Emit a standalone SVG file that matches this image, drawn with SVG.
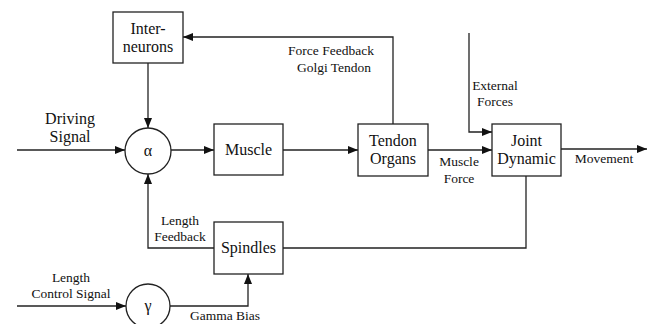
<svg xmlns="http://www.w3.org/2000/svg" width="649" height="324" viewBox="0 0 649 324">
<style>
.box{fill:#fff;stroke:#222;stroke-width:1.3}
.ln{fill:none;stroke:#222;stroke-width:1.3}
.big{font-family:'Liberation Serif','Times New Roman','DejaVu Serif',serif;font-size:16px;fill:#111;text-anchor:middle}
.sm{font-family:'Liberation Serif','Times New Roman','DejaVu Serif',serif;font-size:13.5px;fill:#111;text-anchor:middle}
</style>
<defs>
<marker id="ah" markerUnits="userSpaceOnUse" markerWidth="10" markerHeight="8" refX="10" refY="4" orient="auto">
<path d="M0,0 L10,4 L0,8 Z" fill="#111"/>
</marker>
</defs>
<rect width="649" height="324" fill="#fff"/>
<g id="connectors">
<path class="ln" d="M17,150 L125,150" marker-end="url(#ah)"/>
<path class="ln" d="M148,63 L148,128" marker-end="url(#ah)"/>
<path class="ln" d="M171,150 L214,150" marker-end="url(#ah)"/>
<path class="ln" d="M283,150 L358,150" marker-end="url(#ah)"/>
<path class="ln" d="M428,150 L492,150" marker-end="url(#ah)"/>
<path class="ln" d="M561,149 L647,149" marker-end="url(#ah)"/>
<path class="ln" d="M393,124 L393,37 L183,37" marker-end="url(#ah)"/>
<path class="ln" d="M469,33 L469,132 L492,132" marker-end="url(#ah)"/>
<path class="ln" d="M526,176 L526,248 L283,248"/>
<path class="ln" d="M214,248 L148,248 L148,174" marker-end="url(#ah)"/>
<path class="ln" d="M17,306 L126,306" marker-end="url(#ah)"/>
<path class="ln" d="M170,306 L248,306 L248,274" marker-end="url(#ah)"/>
<text class="sm" x="331" y="55">Force Feedback</text>
<text class="sm" x="334" y="72">Golgi Tendon</text>
<text class="sm" x="495" y="90">External</text>
<text class="sm" x="495" y="106">Forces</text>
<text class="sm" x="459" y="166">Muscle</text>
<text class="sm" x="459" y="183">Force</text>
<text class="sm" x="604" y="163">Movement</text>
<text class="big" x="70" y="124">Driving</text>
<text class="big" x="70" y="142">Signal</text>
<text class="sm" x="180" y="225">Length</text>
<text class="sm" x="180" y="241">Feedback</text>
<text class="sm" x="71" y="282">Length</text>
<text class="sm" x="71" y="298">Control Signal</text>
<text class="sm" x="225" y="320">Gamma Bias</text>
</g>
<g id="interneurons">
<rect class="box" x="113" y="12" width="70" height="51"/>
<text class="big" x="148" y="34">Inter-</text>
<text class="big" x="148" y="52">neurons</text>
</g>
<g id="alpha">
<circle class="box" cx="148" cy="151" r="23"/>
<text class="big" x="148" y="156">α</text>
</g>
<g id="muscle">
<rect class="box" x="214" y="124" width="69" height="51"/>
<text class="big" x="248.5" y="155">Muscle</text>
</g>
<g id="tendon">
<rect class="box" x="358" y="124" width="70" height="52"/>
<text class="big" x="393" y="146">Tendon</text>
<text class="big" x="393" y="164">Organs</text>
</g>
<g id="joint">
<rect class="box" x="492" y="124" width="69" height="52"/>
<text class="big" x="526.5" y="146">Joint</text>
<text class="big" x="526.5" y="164">Dynamic</text>
</g>
<g id="spindles">
<rect class="box" x="214" y="222" width="69" height="52"/>
<text class="big" x="248.5" y="253">Spindles</text>
</g>
<g id="gamma">
<circle class="box" cx="148" cy="306" r="22"/>
<text class="big" x="148" y="311">γ</text>
</g>
</svg>
